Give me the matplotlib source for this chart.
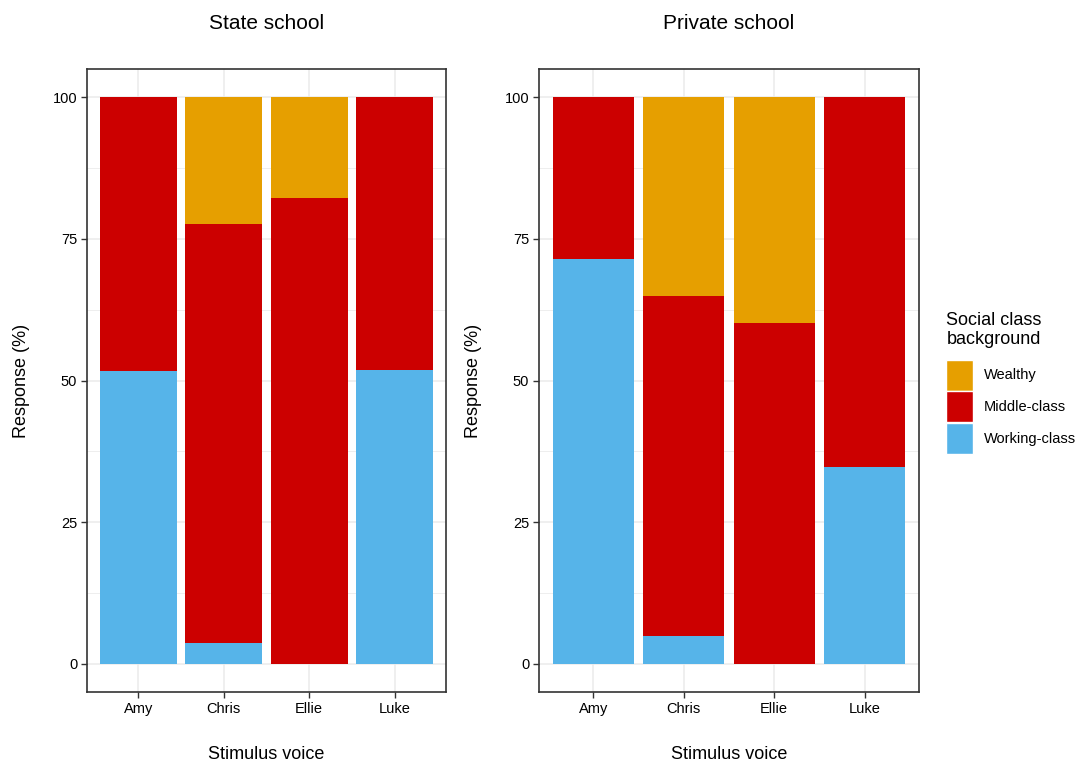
import matplotlib.pyplot as plt
from matplotlib.patches import Patch
import numpy as np

plt.rcParams['font.family'] = ['Liberation Sans', 'DejaVu Sans']

voices = ['Amy', 'Chris', 'Ellie', 'Luke']
panels = ['State school', 'Private school']
classes = ['Wealthy', 'Middle-class', 'Working-class']
colors = {'Wealthy': '#E69F00', 'Middle-class': '#CC0000', 'Working-class': '#56B4E9'}

# percentages per voice
state_working = [51.6, 3.7, 0.0, 51.8]
state_middle = [48.4, 74.0, 82.2, 48.2]
state_wealthy = [0.0, 22.3, 17.8, 0.0]

private_working = [71.4, 4.8, 0.0, 34.8]
private_middle = [28.6, 60.2, 60.1, 65.2]
private_wealthy = [0.0, 35.0, 39.9, 0.0]

data = {
    'State school': [state_working, state_middle, state_wealthy],
    'Private school': [private_working, private_middle, private_wealthy],
}

fig = plt.figure(figsize=(10.81, 7.62), dpi=100)
axes = [fig.add_axes([87/1081, 70/762, 359/1081, 623/762]),
        fig.add_axes([539/1081, 70/762, 380/1081, 623/762])]

x = np.arange(1, 5)
for ax, name in zip(axes, panels):
    work, mid, wealth = data[name]
    work = np.array(work); mid = np.array(mid); wealth = np.array(wealth)
    ax.bar(x, work, width=0.9, color=colors['Working-class'], zorder=3)
    ax.bar(x, mid, width=0.9, bottom=work, color=colors['Middle-class'], zorder=3)
    ax.bar(x, wealth, width=0.9, bottom=work + mid, color=colors['Wealthy'], zorder=3)

    ax.set_xlim(0.4, 4.6)
    ax.set_ylim(-5, 105)
    ax.set_xticks(x)
    ax.set_xticklabels(voices, fontsize=10.5)
    ax.set_yticks([0, 25, 50, 75, 100])
    ax.set_yticklabels(['0', '25', '50', '75', '100'], fontsize=10.5)
    ax.set_yticks([12.5, 37.5, 62.5, 87.5], minor=True)
    ax.grid(True, which='major', color='#EBEBEB', linewidth=1.1, zorder=0)
    ax.grid(True, which='minor', axis='y', color='#EBEBEB', linewidth=0.6, zorder=0)
    ax.tick_params(which='major', length=4, width=1, color='#333333', labelcolor='black', pad=3)
    ax.tick_params(which='minor', length=0)
    for s in ax.spines.values():
        s.set_color('#333333')
        s.set_linewidth(1.2)
    ax.set_title(name, fontsize=15, pad=29)
    ax.set_xlabel('Stimulus voice', fontsize=13, labelpad=22)
    ax.set_ylabel('Response (%)', fontsize=13, labelpad=16)

handles = [Patch(facecolor=colors[c], edgecolor='white', linewidth=1) for c in classes]
leg = fig.legend(handles, classes, loc='upper left', bbox_to_anchor=(940.5/1081, 1 - 306/762),
                 title='Social class\nbackground', title_fontsize=13, fontsize=10.5,
                 frameon=False, handlelength=1.85, handleheight=2.9, handletextpad=0.7,
                 labelspacing=0.05, borderaxespad=0)
leg._legend_box.align = 'left'
leg._legend_box.sep = 8
leg.get_title().set_multialignment('left')

fig.savefig('out.png', dpi=100, facecolor='white')
